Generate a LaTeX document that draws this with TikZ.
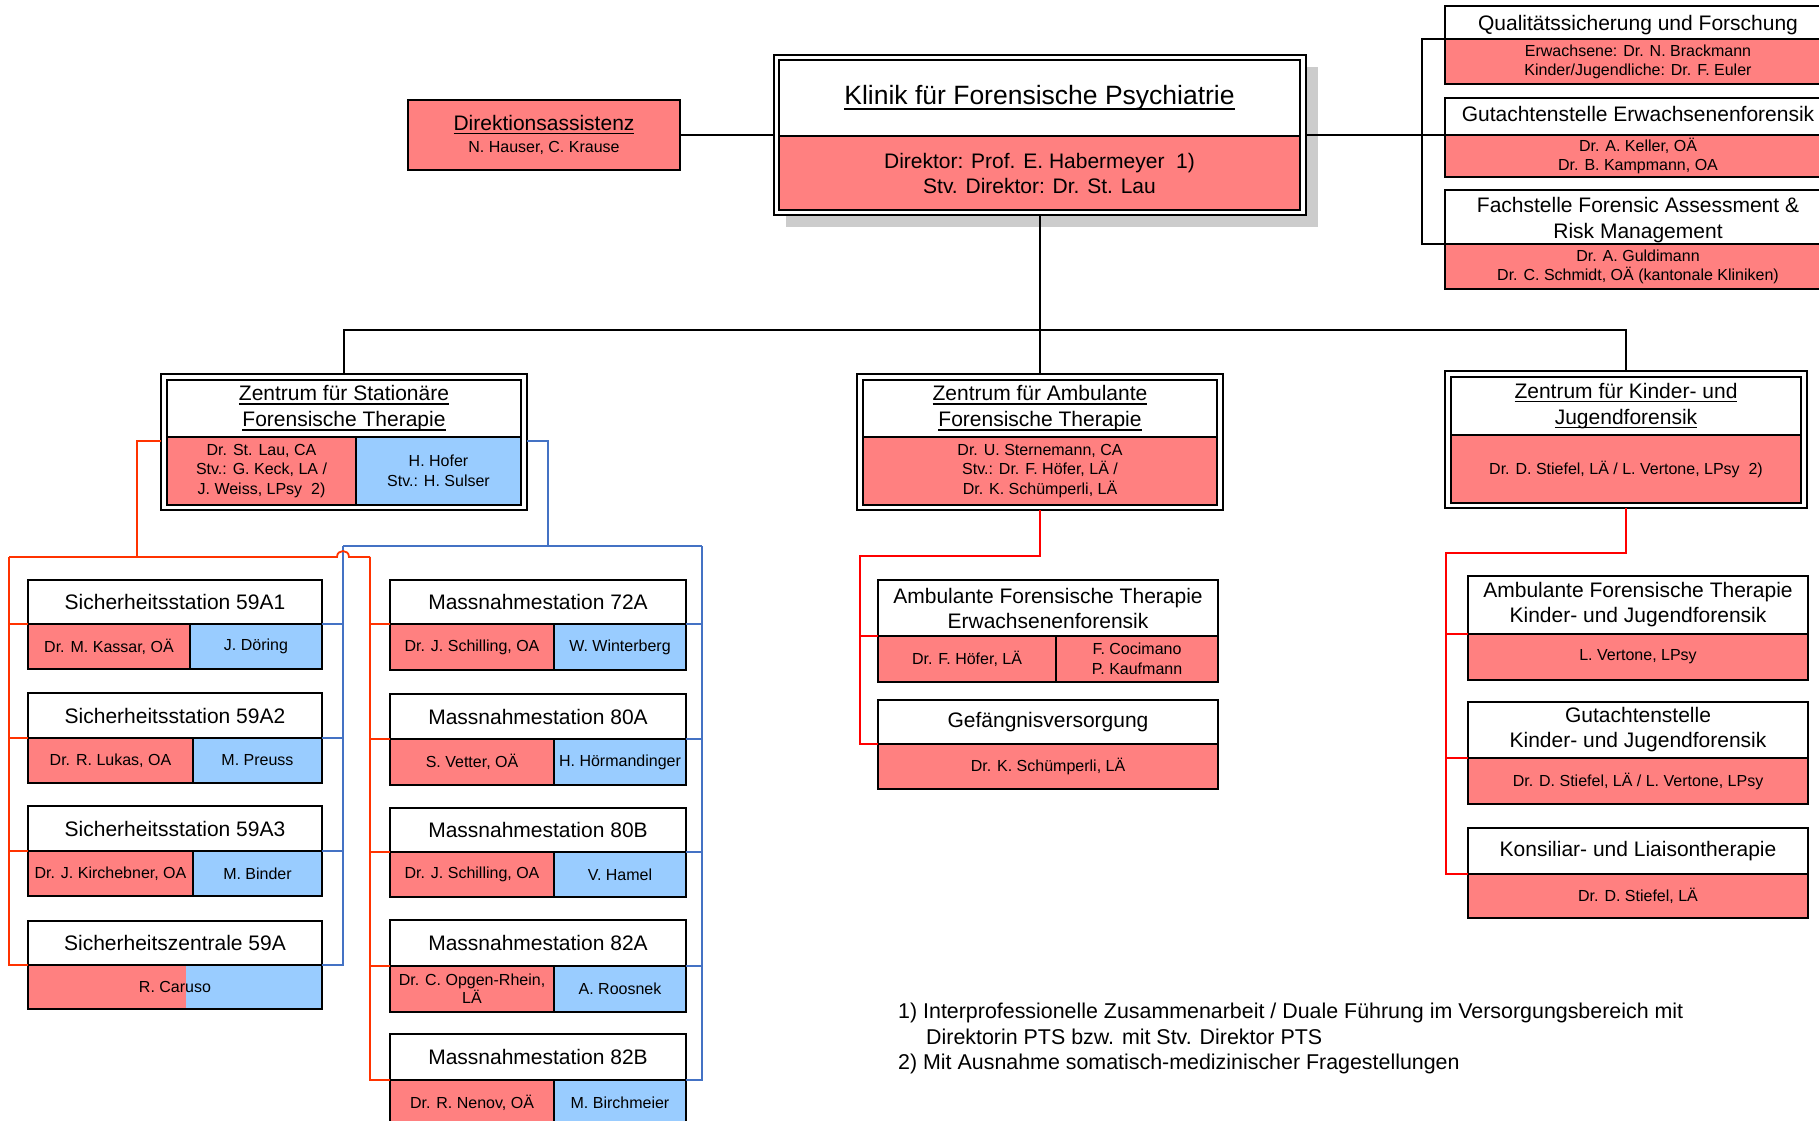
\documentclass[tikz,border=0pt]{standalone}
\usepackage{fontspec}
\setmainfont{Liberation Sans}
\usetikzlibrary{shadows}

\definecolor{pinkfill}{RGB}{255,128,128}
\definecolor{bluefill}{RGB}{153,204,255}
\definecolor{orgred}{RGB}{255,51,0}
\definecolor{linered}{RGB}{255,0,0}
\definecolor{lineblue}{RGB}{68,114,196}
\definecolor{shadowgray}{RGB}{204,204,204}

\newlength\ulw
\newcommand{\ultext}[1]{\settowidth{\ulw}{#1}#1\llap{\rule[-0.18em]{\ulw}{0.075em}}}

\begin{document}
\begin{tikzpicture}[x=1pt, y=-1pt,
	outerframe/.style={draw, line width=2.2pt, fill=white, anchor=north west, inner sep=0pt, outer sep=0pt},
	titlebox/.style={draw, line width=2.2pt, fill=white, anchor=north west, inner sep=0pt, outer sep=0pt, align=center, font=\fontsize{21}{25}\selectfont},
	pinkbox/.style={titlebox, fill=pinkfill, font=\fontsize{16}{19.5}\selectfont},
	bluebox/.style={pinkbox, fill=bluefill},
	note/.style={anchor=base west, inner sep=0pt, font=\fontsize{21.4}{25}\selectfont},
	conn/.style={line width=2pt},
	redl/.style={line width=1.8pt, orgred},
	redm/.style={line width=1.8pt, linered},
	bluel/.style={line width=1.8pt, lineblue}]
	
	\useasboundingbox (0,0) rectangle (1819,1120);
	\clip (0,0) rectangle (1819,1120);
	
	%klinik
	\node[outerframe, minimum width=532pt, minimum height=160pt,
		drop shadow={opacity=1, fill=shadowgray, shadow xshift=12pt, shadow yshift=-12pt}] (kl) at (774,55) {};
	\node[titlebox, minimum width=521pt, minimum height=76pt, line width=2.7pt, font=\fontsize{26.5}{30}\selectfont] (klt) at ([xshift=5pt, yshift=-5pt]kl.north west) {\ultext{Klinik für Forensische Psychiatrie}};
	\node[pinkbox, minimum width=521pt, minimum height=74pt, line width=2.7pt, font=\fontsize{21}{25}\selectfont] (klp) at (klt.south west) {Direktor: Prof. E. Habermeyer~~1)\\Stv. Direktor: Dr. St. Lau};
	
	\node[pinkbox, minimum width=272pt, minimum height=70pt, font=\fontsize{21}{25}\selectfont] (da) at (408,100) {\ultext{Direktionsassistenz}\\[-3pt]{\fontsize{16}{19}\selectfont N. Hauser, C. Krause}};
	
	%stabsstellen
	\node[titlebox, minimum width=386pt, minimum height=33pt] (q1) at (1445,6) {\rule{0pt}{21pt}Qualitätssicherung und Forschung};
	\node[pinkbox, minimum width=386pt, minimum height=45pt, font=\fontsize{16}{19}\selectfont] (q1p) at (q1.south west) {Erwachsene: Dr. N. Brackmann\\Kinder/Jugendliche: Dr. F. Euler};
	\node[titlebox, minimum width=386pt, minimum height=37pt] (q2) at (1445,98) {Gutachtenstelle Erwachsenenforensik\rule[-4.5pt]{0pt}{4.5pt}};
	\node[pinkbox, minimum width=386pt, minimum height=42pt, font=\fontsize{16}{19}\selectfont] (q2p) at (q2.south west) {Dr. A. Keller, OÄ\\Dr. B. Kampmann, OA};
	\node[titlebox, minimum width=386pt, minimum height=54pt, font=\fontsize{21}{26}\selectfont] (q3) at (1445,190) {\rule{0pt}{21pt}Fachstelle Forensic Assessment \&\\Risk Management};
	\node[pinkbox, minimum width=386pt, minimum height=45pt, font=\fontsize{16}{19}\selectfont] (q3p) at (q3.south west) {Dr. A. Guldimann\\Dr. C. Schmidt, OÄ (kantonale Kliniken)};
	
	%zentren
	\node[outerframe, minimum width=366pt, minimum height=136pt] (zs) at (161,374) {};
	\node[titlebox, minimum width=354pt, minimum height=57pt, line width=2.5pt, font=\fontsize{21}{26}\selectfont] (zst) at ([xshift=6pt, yshift=-6pt]zs.north west) {\ultext{Zentrum für Stationäre}\\\ultext{Forensische Therapie}};
	\node[pinkbox, minimum width=189pt, minimum height=68pt, line width=2.5pt] (zsp) at (zst.south west) {Dr. St. Lau, CA\\Stv.: G. Keck, LA /\\J. Weiss, LPsy~~2)};
	\node[bluebox, minimum width=165pt, minimum height=68pt, line width=2.5pt] (zsb) at (zsp.north east) {H. Hofer\\Stv.: H. Sulser};
	
	\node[outerframe, minimum width=366pt, minimum height=136pt] (za) at (857,374) {};
	\node[titlebox, minimum width=354pt, minimum height=57pt, line width=2.5pt, font=\fontsize{21}{26}\selectfont] (zat) at ([xshift=6pt, yshift=-6pt]za.north west) {\ultext{Zentrum für Ambulante}\\\ultext{Forensische Therapie}};
	\node[pinkbox, minimum width=354pt, minimum height=68pt, line width=2.5pt] (zap) at (zat.south west) {Dr. U. Sternemann, CA\\Stv.: Dr. F. Höfer, LÄ /\\Dr. K. Schümperli, LÄ};
	
	\node[outerframe, minimum width=362pt, minimum height=137pt] (zk) at (1445,371) {};
	\node[titlebox, minimum width=350pt, minimum height=58pt, line width=2.5pt, font=\fontsize{21}{26}\selectfont] (zkt) at ([xshift=6pt, yshift=-6pt]zk.north west) {\ultext{Zentrum für Kinder- und}\\\ultext{Jugendforensik}};
	\node[pinkbox, minimum width=350pt, minimum height=68pt, line width=2.5pt] (zkp) at (zkt.south west) {Dr. D. Stiefel, LÄ / L. Vertone, LPsy~~2)};
	
	%sicherheitsstationen
	\node[titlebox, minimum width=294pt, minimum height=44pt] (ls1) at (28,580) {Sicherheitsstation 59A1};
	\node[pinkbox, minimum width=162pt, minimum height=45pt] (lp1) at (ls1.south west) {Dr. M. Kassar, OÄ};
	\node[bluebox, minimum width=132pt, minimum height=45pt] (lb1) at (lp1.north east) {J. Döring};
	\node[titlebox, minimum width=294pt, minimum height=45pt] (ls2) at (28,693) {Sicherheitsstation 59A2};
	\node[pinkbox, minimum width=165pt, minimum height=45pt] (lp2) at (ls2.south west) {Dr. R. Lukas, OA};
	\node[bluebox, minimum width=129pt, minimum height=45pt] (lb2) at (lp2.north east) {M. Preuss};
	\node[titlebox, minimum width=294pt, minimum height=45pt] (ls3) at (28,806) {Sicherheitsstation 59A3};
	\node[pinkbox, minimum width=165pt, minimum height=45pt] (lp3) at (ls3.south west) {Dr. J. Kirchebner, OA};
	\node[bluebox, minimum width=129pt, minimum height=45pt] (lb3) at (lp3.north east) {M. Binder};
	\node[titlebox, minimum width=294pt, minimum height=44pt] (ls4) at (28,921) {Sicherheitszentrale 59A};
	\node[pinkbox, minimum width=294pt, minimum height=44pt, alias=lb4,
		path picture={\fill[bluefill] ([xshift=158pt]path picture bounding box.south west) rectangle (path picture bounding box.north east);}] (lp4) at (ls4.south west) {R. Caruso};
	
	%massnahmestationen
	\node[titlebox, minimum width=296pt, minimum height=44pt] (ms1) at (390,580) {Massnahmestation 72A};
	\node[pinkbox, minimum width=164pt, minimum height=46pt] (mp1) at (ms1.south west) {Dr. J. Schilling, OA};
	\node[bluebox, minimum width=132pt, minimum height=46pt] (mb1) at (mp1.north east) {W. Winterberg};
	\node[titlebox, minimum width=296pt, minimum height=45pt] (ms2) at (390,694) {Massnahmestation 80A};
	\node[pinkbox, minimum width=164pt, minimum height=46pt] (mp2) at (ms2.south west) {S. Vetter, OÄ};
	\node[bluebox, minimum width=132pt, minimum height=46pt] (mb2) at (mp2.north east) {H. Hörmandinger};
	\node[titlebox, minimum width=296pt, minimum height=44pt] (ms3) at (390,808) {Massnahmestation 80B};
	\node[pinkbox, minimum width=164pt, minimum height=45pt] (mp3) at (ms3.south west) {Dr. J. Schilling, OA};
	\node[bluebox, minimum width=132pt, minimum height=45pt] (mb3) at (mp3.north east) {V. Hamel};
	\node[titlebox, minimum width=296pt, minimum height=46pt] (ms4) at (390,920) {Massnahmestation 82A};
	\node[pinkbox, minimum width=164pt, minimum height=46pt, font=\fontsize{16}{18}\selectfont] (mp4) at (ms4.south west) {Dr. C. Opgen-Rhein,\\LÄ};
	\node[bluebox, minimum width=132pt, minimum height=46pt] (mb4) at (mp4.north east) {A. Roosnek};
	\node[titlebox, minimum width=296pt, minimum height=46pt] (ms5) at (390,1034) {Massnahmestation 82B};
	\node[pinkbox, minimum width=164pt, minimum height=46pt] (mp5) at (ms5.south west) {Dr. R. Nenov, OÄ};
	\node[bluebox, minimum width=132pt, minimum height=46pt] (mb5) at (mp5.north east) {M. Birchmeier};
	
	%ambulant
	\node[titlebox, minimum width=340pt, minimum height=56pt] (ae) at (878,580) {Ambulante Forensische Therapie\\Erwachsenenforensik};
	\node[pinkbox, minimum width=178pt, minimum height=46pt] (aep) at (ae.south west) {Dr. F. Höfer, LÄ};
	\node[pinkbox, minimum width=162pt, minimum height=46pt] (aeq) at (aep.north east) {F. Cocimano\\P. Kaufmann};
	\node[titlebox, minimum width=340pt, minimum height=44pt] (gv) at (878,700) {Gefängnisversorgung};
	\node[pinkbox, minimum width=340pt, minimum height=45pt] (gvp) at (gv.south west) {Dr. K. Schümperli, LÄ};
	
	%kinder und jugend
	\node[titlebox, minimum width=340pt, minimum height=58pt] (kj1) at (1468,576) {Ambulante Forensische Therapie\\Kinder- und Jugendforensik};
	\node[pinkbox, minimum width=340pt, minimum height=46pt] (kjp1) at (kj1.south west) {L. Vertone, LPsy};
	\node[titlebox, minimum width=340pt, minimum height=56pt] (kj2) at (1468,702) {Gutachtenstelle\\Kinder- und Jugendforensik};
	\node[pinkbox, minimum width=340pt, minimum height=46pt] (kjp2) at (kj2.south west) {Dr. D. Stiefel, LÄ / L. Vertone, LPsy};
	\node[titlebox, minimum width=340pt, minimum height=46pt] (kj3) at (1468,828) {Konsiliar- und Liaisontherapie};
	\node[pinkbox, minimum width=340pt, minimum height=44pt] (kjp3) at (kj3.south west) {Dr. D. Stiefel, LÄ};
	
	%black lines
	\coordinate (qb) at (1422,200);
	\coordinate (trunk) at (1040,330);
	\draw[conn] (da.east) -- (kl.west);
	\draw[conn] (kl.east) -- (kl.east -| q2p.west);
	\draw[conn] (q1p.north west) -| (qb) |- (q3p.north west);
	\draw[conn] (kl.south) -- (trunk);
	\draw[conn] (zs.north) |- (trunk) -| (zk.north);
	\draw[conn] (za.north) -- (trunk);
	
	%blue lines
	\coordinate (btap) at (548,546);
	\coordinate (bcolL) at (343,546);
	\coordinate (bcolR) at (702,546);
	\path ([yshift=-4pt]zsb.north east) coordinate (zsbr);
	\draw[bluel] (zsbr -| zs.east) -| (btap);
	\draw[bluel] (bcolL) -- (bcolR);
	\draw[bluel] (bcolL) |- (lb4.north east);
	\foreach \n in {1,2,3}{
		\draw[bluel] (lb\n.north east) -- (lb\n.north east -| bcolL);
	}
	\draw[bluel] (bcolR) |- (mb5.north east);
	\foreach \n in {1,...,4}{
		\draw[bluel] (mb\n.north east) -- (mb\n.north east -| bcolR);
	}
	
	%red lines
	\coordinate (rtap) at (137,557);
	\coordinate (rcolL) at (9,557);
	\coordinate (rcolR) at (370,557);
	\coordinate (hopA) at (337,557);
	\coordinate (hopB) at (349,557);
	\path ([yshift=-4pt]zsp.north west) coordinate (zsr);
	\draw[redl] (zsr -| zs.west) -| (rtap);
	\draw[redl] (rcolL) -- (hopA) .. controls +(0,-8) and +(0,-8) .. (hopB) -- (rcolR);
	\draw[redl] (rcolL) |- (lp4.north west);
	\foreach \n in {1,2,3}{
		\draw[redl] (lp\n.north west) -- (lp\n.north west -| rcolL);
	}
	\draw[redl] (rcolR) |- (mp5.north west);
	\foreach \n in {1,...,4}{
		\draw[redl] (mp\n.north west) -- (mp\n.north west -| rcolR);
	}
	
	\coordinate (mbend) at (860,556);
	\draw[redm] (za.south) |- (mbend) |- (gvp.north west);
	\draw[redm] (aep.north west) -- (aep.north west -| mbend);
	
	\coordinate (kbend) at (1446,553);
	\draw[redm] (zk.south) |- (kbend) |- (kjp3.north west);
	\foreach \n in {1,2}{
		\draw[redm] (kjp\n.north west) -- (kjp\n.north west -| kbend);
	}
	
	%notes
	\node[note] (fn1) at (898,1018) {1) Interprofessionelle Zusammenarbeit / Duale Führung im Versorgungsbereich mit};
	\node[note] (fn1b) at (926,1044) {Direktorin PTS bzw. mit Stv. Direktor PTS};
	\node[note] (fn2) at (898,1069) {2) Mit Ausnahme somatisch-medizinischer Fragestellungen};
\end{tikzpicture}
\end{document}
